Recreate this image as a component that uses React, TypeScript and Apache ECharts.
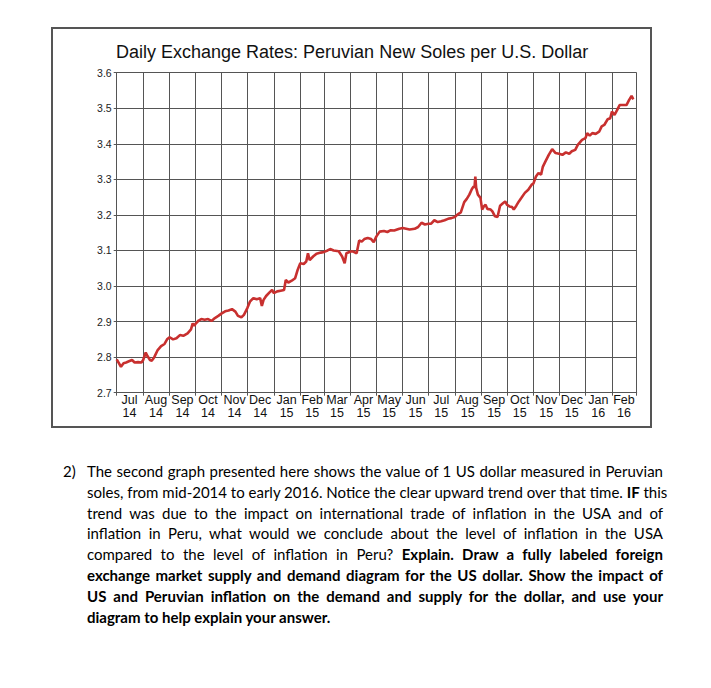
import React, { useEffect, useRef } from "react";
import * as echarts from "echarts";

const chartTitle = "Daily Exchange Rates: Peruvian New Soles per U.S. Dollar";

const dates = [
  "2014-07-01", "2014-07-06", "2014-07-09", "2014-07-12", "2014-07-16", "2014-07-19", "2014-07-22", "2014-07-26", "2014-07-30",
  "2014-08-01", "2014-08-04", "2014-08-06", "2014-08-09", "2014-08-11", "2014-08-14", "2014-08-18", "2014-08-22", "2014-08-26", "2014-08-29",
  "2014-09-01", "2014-09-05", "2014-09-09", "2014-09-13", "2014-09-17", "2014-09-22", "2014-09-26", "2014-09-28", "2014-09-30",
  "2014-10-01", "2014-10-05", "2014-10-08", "2014-10-12", "2014-10-16", "2014-10-20", "2014-10-24", "2014-10-28",
  "2014-11-01", "2014-11-05", "2014-11-09", "2014-11-13", "2014-11-17", "2014-11-20", "2014-11-24", "2014-11-27",
  "2014-12-01", "2014-12-04", "2014-12-08", "2014-12-12", "2014-12-16", "2014-12-18", "2014-12-20", "2014-12-23", "2014-12-27", "2014-12-30",
  "2015-01-01", "2015-01-05", "2015-01-09", "2015-01-13", "2015-01-15", "2015-01-18", "2015-01-22", "2015-01-26", "2015-01-29",
  "2015-02-01", "2015-02-05", "2015-02-08", "2015-02-10", "2015-02-12", "2015-02-16", "2015-02-20", "2015-02-25",
  "2015-03-01", "2015-03-05", "2015-03-08", "2015-03-12", "2015-03-18", "2015-03-22", "2015-03-25", "2015-03-27",
  "2015-04-01", "2015-04-04", "2015-04-08", "2015-04-11", "2015-04-14", "2015-04-17", "2015-04-21", "2015-04-25", "2015-04-28",
  "2015-05-01", "2015-05-05", "2015-05-10", "2015-05-14", "2015-05-18", "2015-05-22", "2015-05-28",
  "2015-06-01", "2015-06-09", "2015-06-15", "2015-06-19", "2015-06-23", "2015-06-27",
  "2015-07-01", "2015-07-04", "2015-07-08", "2015-07-12", "2015-07-16", "2015-07-20", "2015-07-24", "2015-07-28",
  "2015-08-01", "2015-08-04", "2015-08-08", "2015-08-12", "2015-08-15", "2015-08-18", "2015-08-21", "2015-08-23", "2015-08-24", "2015-08-25", "2015-08-26", "2015-08-28", "2015-08-31",
  "2015-09-02", "2015-09-04", "2015-09-06", "2015-09-08", "2015-09-12", "2015-09-14", "2015-09-17", "2015-09-20", "2015-09-23", "2015-09-26", "2015-09-29",
  "2015-10-01", "2015-10-04", "2015-10-07", "2015-10-09", "2015-10-12", "2015-10-15", "2015-10-18", "2015-10-22", "2015-10-26", "2015-10-30",
  "2015-11-01", "2015-11-04", "2015-11-07", "2015-11-10", "2015-11-12", "2015-11-15", "2015-11-19", "2015-11-23", "2015-11-27",
  "2015-12-01", "2015-12-05", "2015-12-09", "2015-12-13", "2015-12-16", "2015-12-20", "2015-12-23", "2015-12-28",
  "2016-01-01", "2016-01-03", "2016-01-06", "2016-01-09", "2016-01-13", "2016-01-17", "2016-01-20", "2016-01-23", "2016-01-27", "2016-01-30",
  "2016-02-01", "2016-02-04", "2016-02-07", "2016-02-10", "2016-02-14", "2016-02-18", "2016-02-21", "2016-02-24", "2016-02-26",
];

const rates = [
  2.794, 2.773, 2.783, 2.785, 2.789, 2.792, 2.785, 2.786, 2.785,
  2.792, 2.813, 2.803, 2.792, 2.790, 2.800, 2.820, 2.831, 2.837, 2.850,
  2.856, 2.850, 2.853, 2.862, 2.860, 2.867, 2.878, 2.895, 2.888,
  2.893, 2.903, 2.907, 2.905, 2.907, 2.902, 2.910, 2.916,
  2.923, 2.929, 2.931, 2.935, 2.928, 2.916, 2.912, 2.919,
  2.938, 2.956, 2.966, 2.963, 2.966, 2.944, 2.961, 2.972, 2.982, 2.989,
  2.980, 2.985, 2.987, 2.989, 3.017, 3.010, 3.015, 3.022, 3.046,
  3.064, 3.062, 3.069, 3.092, 3.073, 3.083, 3.091, 3.094,
  3.096, 3.100, 3.104, 3.100, 3.098, 3.083, 3.064, 3.092,
  3.097, 3.097, 3.092, 3.128, 3.125, 3.132, 3.135, 3.132, 3.123,
  3.139, 3.153, 3.155, 3.152, 3.157, 3.156, 3.161,
  3.163, 3.159, 3.161, 3.166, 3.178, 3.173,
  3.175, 3.175, 3.185, 3.180, 3.182, 3.185, 3.189, 3.191,
  3.194, 3.201, 3.207, 3.236, 3.245, 3.257, 3.273, 3.280, 3.276, 3.308, 3.276, 3.257, 3.248,
  3.215, 3.224, 3.229, 3.217, 3.215, 3.210, 3.196, 3.194, 3.226, 3.232, 3.238,
  3.229, 3.224, 3.222, 3.215, 3.226, 3.238, 3.248, 3.262, 3.271, 3.285,
  3.288, 3.308, 3.318, 3.313, 3.335, 3.350, 3.369, 3.385, 3.374,
  3.372, 3.369, 3.376, 3.372, 3.379, 3.383, 3.397, 3.411,
  3.416, 3.430, 3.423, 3.430, 3.428, 3.434, 3.449, 3.453, 3.469, 3.472,
  3.491, 3.481, 3.495, 3.509, 3.509, 3.509, 3.523, 3.535, 3.525,
];

// month boundaries (grid lines) and the mid-month positions of the month labels
const monthStarts = [
  "2014-07-01", "2014-08-01", "2014-09-01", "2014-10-01", "2014-11-01", "2014-12-01",
  "2015-01-01", "2015-02-01", "2015-03-01", "2015-04-01", "2015-05-01", "2015-06-01",
  "2015-07-01", "2015-08-01", "2015-09-01", "2015-10-01", "2015-11-01", "2015-12-01",
  "2016-01-01", "2016-02-01", "2016-03-01",
];
const labelDates = [
  "2014-07-16", "2014-08-16", "2014-09-16", "2014-10-16", "2014-11-16", "2014-12-16",
  "2015-01-16", "2015-02-15", "2015-03-16", "2015-04-16", "2015-05-16", "2015-06-16",
  "2015-07-16", "2015-08-16", "2015-09-16", "2015-10-16", "2015-11-16", "2015-12-16",
  "2016-01-16", "2016-02-15",
];
const monthNames = ["Jan", "Feb", "Mar", "Apr", "May", "Jun", "Jul", "Aug", "Sep", "Oct", "Nov", "Dec"];

const yMin = 2.7;
const yMax = 3.6;
const yStep = 0.1;

type Seg = [string, boolean];
const questionNumber = "2)";
const questionLines: Seg[][] = [
  [["The second graph presented here shows the value of 1 US dollar measured in Peruvian", false]],
  [["soles, from mid-2014 to early 2016. Notice the clear upward trend over that time. ", false], ["IF", true], [" this", false]],
  [["trend was due to the impact on international trade of inflation in the USA and of", false]],
  [["inflation in Peru, what would we conclude about the level of inflation in the USA", false]],
  [["compared to the level of inflation in Peru? ", false], ["Explain. Draw a fully labeled foreign", true]],
  [["exchange market supply and demand diagram for the US dollar. Show the impact of", true]],
  [["US and Peruvian inflation on the demand and supply for the dollar, and use your", true]],
  [["diagram to help explain your answer.", true]],
];

const ts = (s: string) => {
  const [y, m, d] = s.split("-").map(Number);
  return Date.UTC(y, m - 1, d);
};

const GRID = "#555";
const SANS = "'Liberation Sans', Arial, Helvetica, sans-serif";

export default function App() {
  const ref = useRef<HTMLDivElement>(null);

  useEffect(() => {
    if (!ref.current) return;
    const chart = echarts.init(ref.current, undefined, { renderer: "svg" });
    const xMin = ts(monthStarts[0]);
    const xMax = ts(monthStarts[monthStarts.length - 1]);
    const labelBase = {
      customValues: labelDates.map(ts),
      fontFamily: SANS,
      fontSize: 12.5,
      lineHeight: 12.5,
      color: "#111",
      hideOverlap: false,
      showMinLabel: true,
      showMaxLabel: true,
    };
    chart.setOption({
      animation: false,
      backgroundColor: "#fff",
      title: {
        text: chartTitle,
        left: 116,
        top: 43,
        padding: 0,
        textStyle: { fontFamily: SANS, fontSize: 18, fontWeight: "normal", color: "#111" },
      },
      grid: { left: 116.7, top: 72.7, width: 520, height: 320 },
      xAxis: [
        {
          type: "value",
          min: xMin,
          max: xMax,
          axisLine: { show: true, lineStyle: { color: GRID, width: 1 } },
          axisTick: { show: true, length: 3, customValues: monthStarts.map(ts), lineStyle: { color: GRID, width: 1 } },
          axisLabel: {
            ...labelBase,
            margin: 1.5,
            formatter: (v: number) => monthNames[new Date(v).getUTCMonth()],
          },
          splitLine: { show: true, lineStyle: { color: GRID, width: 1 } },
        },
        {
          type: "value",
          position: "bottom",
          min: xMin,
          max: xMax,
          axisLine: { show: false },
          axisTick: { show: false },
          splitLine: { show: false },
          axisLabel: {
            ...labelBase,
            margin: 14.5,
            formatter: (v: number) => String(new Date(v).getUTCFullYear()).slice(2),
          },
        },
      ],
      yAxis: {
        type: "value",
        min: yMin,
        max: yMax,
        interval: yStep,
        axisLine: { show: true, lineStyle: { color: GRID, width: 1 } },
        axisTick: { show: true, length: 3, lineStyle: { color: GRID, width: 1 } },
        axisLabel: {
          formatter: (v: number) => v.toFixed(1),
          fontFamily: SANS,
          fontSize: 10.5,
          color: "#222",
          margin: 5,
        },
        splitLine: { show: true, lineStyle: { color: GRID, width: 1 } },
      },
      series: [
        {
          type: "line",
          xAxisIndex: 0,
          data: dates.map((d, i) => [ts(d), rates[i]]),
          showSymbol: false,
          lineStyle: { color: "#c8302f", width: 2.6 },
          itemStyle: { color: "#c8302f" },
        },
      ],
      graphic: [
        {
          type: "rect",
          silent: true,
          shape: { x: 52, y: 28, width: 599, height: 399 },
          style: { fill: "none", stroke: "#555", lineWidth: 2 },
        },
      ],
    });
    return () => chart.dispose();
  }, []);

  const textFont = "Lato, 'Open Sans', sans-serif";
  return (
    <div style={{ position: "absolute", left: 0, top: 0, width: 711, height: 688, background: "#fff" }}>
      <div ref={ref} style={{ position: "absolute", left: 0, top: 0, width: 711, height: 440 }} />
      <div
        style={{
          position: "absolute",
          left: 63,
          top: 461,
          fontFamily: textFont,
          fontSize: 15,
          lineHeight: "20.8px",
          color: "#000",
        }}
      >
        {questionNumber}
      </div>
      <div
        style={{
          position: "absolute",
          left: 87,
          top: 461,
          width: 576,
          fontFamily: textFont,
          fontSize: 15,
          lineHeight: "20.8px",
          color: "#000",
        }}
      >
        {questionLines.map((line, i) => (
          <div
            key={i}
            style={{
              whiteSpace: "nowrap",
              textAlign: "justify",
              textAlignLast: i < questionLines.length - 1 ? "justify" : "left",
            }}
          >
            {line.map(([t, b], j) => (
              <span key={j} style={{ fontWeight: b ? 700 : 400 }}>
                {t}
              </span>
            ))}
          </div>
        ))}
      </div>
    </div>
  );
}
